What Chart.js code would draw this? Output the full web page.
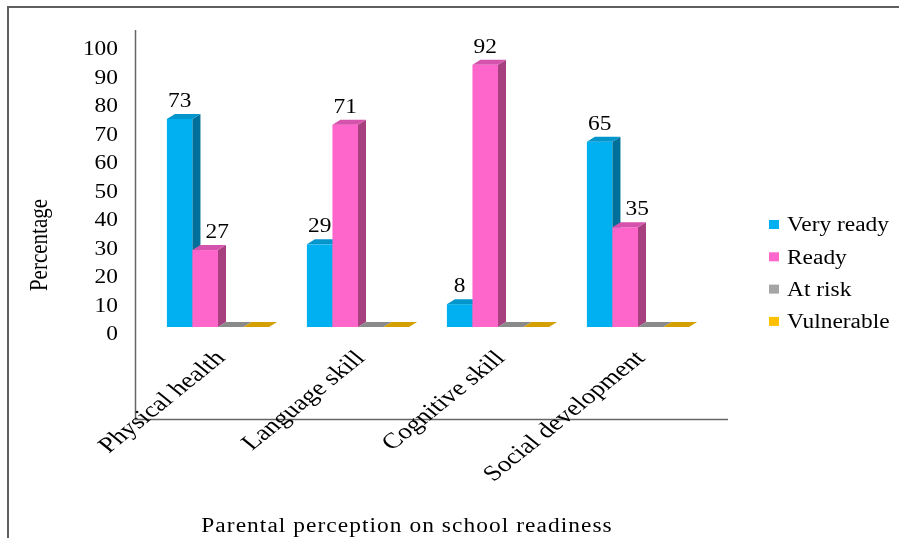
<!DOCTYPE html>
<html>
<head>
<meta charset="utf-8">
<script src="https://cdn.jsdelivr.net/npm/chart.js@4.4.1/dist/chart.umd.min.js"></script>
<style>
  html, body { margin: 0; padding: 0; background: #fff; }
  canvas { display: block; }
</style>
</head>
<body>
<canvas id="readinessChart" width="899" height="538"></canvas>
<script>
const categories = ['Physical health', 'Language skill', 'Cognitive skill', 'Social development'];
const veryReady = [73, 29, 8, 65];
const ready = [27, 71, 92, 35];
const atRisk = [0, 0, 0, 0];
const vulnerable = [0, 0, 0, 0];
const yTicks = [0, 10, 20, 30, 40, 50, 60, 70, 80, 90, 100];

const seriesNames = ['Very ready', 'Ready', 'At risk', 'Vulnerable'];
const frontColors = ['#00B0F0', '#FF66CC', '#A5A5A5', '#FFC000'];
const topColors = ['#0396cc', '#d653ad', '#8a8a8a', '#d4a000'];
const sideColors = ['#00709a', '#a6407f', '#6e6e6e', '#a07800'];

const FONT = '"Liberation Serif", "Times New Roman", serif';
const SX = 1.17;   // text in the picture is a bit stretched sideways
const DX = 8, DY = -5;

function stretchedText(ctx, text, x, y, size, align, baseline, angle, spacing, sx) {
  ctx.save();
  ctx.translate(x, y);
  ctx.scale(sx || SX, 1);
  if (angle) ctx.rotate(angle);
  ctx.font = size + 'px ' + FONT;
  ctx.fillStyle = '#000';
  ctx.textAlign = align;
  ctx.textBaseline = baseline;
  if (spacing) ctx.letterSpacing = spacing + 'px';
  ctx.fillText(text, 0, 0);
  ctx.restore();
}

function poly(ctx, pts, color) {
  ctx.beginPath();
  ctx.moveTo(pts[0][0], pts[0][1]);
  for (let i = 1; i < pts.length; i++) ctx.lineTo(pts[i][0], pts[i][1]);
  ctx.closePath();
  ctx.fillStyle = color;
  ctx.fill();
}

const frame = {
  id: 'frame',
  beforeDraw(chart) {
    const ctx = chart.ctx;
    ctx.save();
    ctx.strokeStyle = '#5f5f5f';
    ctx.lineWidth = 2;
    ctx.beginPath();
    ctx.moveTo(899, 7);
    ctx.lineTo(8, 7);
    ctx.lineTo(8, 538);
    ctx.stroke();

    // axis lines
    ctx.lineWidth = 1.5;
    ctx.strokeStyle = '#666';
    ctx.beginPath();
    ctx.moveTo(135.5, 30);
    ctx.lineTo(135.5, 420);
    ctx.moveTo(135, 419.5);
    ctx.lineTo(728, 419.5);
    ctx.stroke();
    ctx.restore();
  }
};

const bars3d = {
  id: 'bars3d',
  beforeDatasetsDraw(chart) {
    const ctx = chart.ctx;
    const metas = chart.data.datasets.map((d, i) => chart.getDatasetMeta(i));
    ctx.save();
    for (let c = 0; c < categories.length; c++) {
      metas.forEach((meta, s) => {
        const bar = meta.data[c];
        const l = bar.x - bar.width / 2, r = bar.x + bar.width / 2;
        const top = bar.y, base = bar.base;
        ctx.fillStyle = frontColors[s];
        ctx.fillRect(l, top, r - l, base - top);
        poly(ctx, [[r, top], [r + DX, top + DY], [r + DX, base + DY], [r, base]], sideColors[s]);
        poly(ctx, [[l, top], [r, top], [r + DX, top + DY], [l + DX, top + DY]], topColors[s]);
      });
    }
    // value labels; nudge right when the bar to the left is taller
    metas.forEach((meta, s) => {
      const values = chart.data.datasets[s].data;
      meta.data.forEach((bar, c) => {
        if (values[c] > 0) {
          const prev = s > 0 ? chart.data.datasets[s - 1].data[c] : 0;
          const shift = prev > values[c] ? 12 : 0;
          stretchedText(ctx, String(values[c]), bar.x + shift, bar.y - 12, 20, 'center', 'alphabetic');
        }
      });
    });
    ctx.restore();
    return false;
  },
  afterDraw(chart) {
    const ctx = chart.ctx;
    const y = chart.scales.y, x = chart.scales.x;
    // y tick labels
    yTicks.forEach(v => {
      stretchedText(ctx, String(v), 118, y.getPixelForValue(v) + 8, 20, 'right', 'middle');
    });
    // category labels
    categories.forEach((name, i) => {
      stretchedText(ctx, name, x.getPixelForValue(i) + 3, 355, 22, 'right', 'middle', -Math.PI / 4, 0, 1.24);
    });
    // axis titles
    stretchedText(ctx, 'Percentage', 41, 245, 21, 'center', 'middle', -Math.PI / 2);
    stretchedText(ctx, 'Parental perception on school readiness', 407, 527, 20, 'center', 'middle', 0, 0.9);
    // legend
    seriesNames.forEach((name, i) => {
      const cy = 225 + i * 32.3;
      ctx.fillStyle = frontColors[i];
      ctx.fillRect(769, cy - 5, 10, 9);
      stretchedText(ctx, name, 787, cy + 1, 20, 'left', 'middle');
    });
  }
};

new Chart(document.getElementById('readinessChart'), {
  type: 'bar',
  data: {
    labels: categories,
    datasets: [
      { label: seriesNames[0], data: veryReady, backgroundColor: frontColors[0] },
      { label: seriesNames[1], data: ready, backgroundColor: frontColors[1] },
      { label: seriesNames[2], data: atRisk, backgroundColor: frontColors[2] },
      { label: seriesNames[3], data: vulnerable, backgroundColor: frontColors[3] }
    ]
  },
  options: {
    responsive: false,
    animation: false,
    categoryPercentage: 0.73,
    barPercentage: 1,
    layout: { padding: { top: 42, right: 191, left: 0, bottom: 0 } },
    plugins: {
      legend: { display: false },
      tooltip: { enabled: false }
    },
    scales: {
      x: {
        grid: { display: false },
        border: { display: false },
        ticks: { display: false },
        afterFit: s => { s.height = 211; }
      },
      y: {
        min: 0,
        max: 100,
        grid: { display: false },
        border: { display: false },
        ticks: { display: false, stepSize: 10 },
        afterFit: s => { s.width = 148; }
      }
    }
  },
  plugins: [frame, bars3d]
});
</script>
</body>
</html>
